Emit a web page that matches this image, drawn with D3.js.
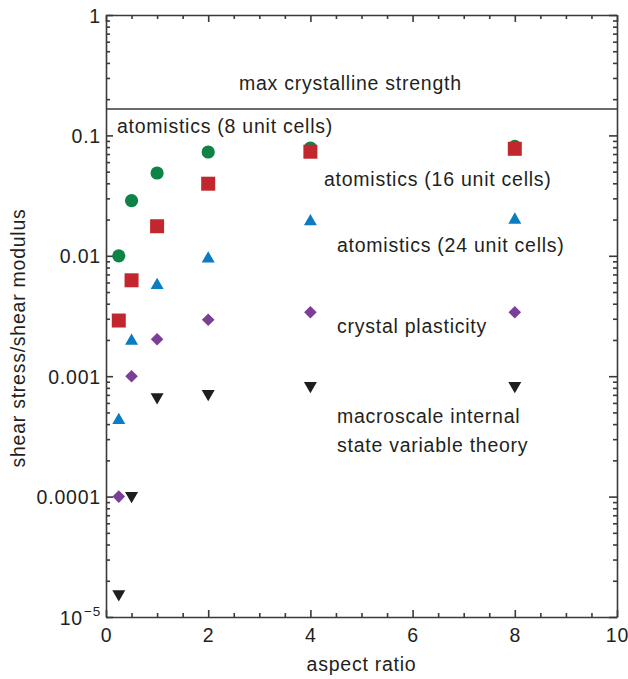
<!DOCTYPE html>
<html>
<head>
<meta charset="utf-8">
<script src="https://cdn.jsdelivr.net/npm/d3@7"></script>
<style>
  html, body { margin: 0; padding: 0; background: #fff; }
  svg { display: block; font-family: "Liberation Sans", Arial, Helvetica, sans-serif; }
  text { fill: #231f20; }
</style>
</head>
<body>
<svg id="chart" width="628" height="679"></svg>
<script>
// Aspect ratios of the simulated specimens
const aspectRatios = [0.25, 0.5, 1, 2, 4, 8];

// Normalised shear strength (shear stress / shear modulus) for each model
const atomistics8 = [0.0100, 0.0287, 0.0487, 0.0728, 0.0786, 0.0810];
const atomistics16 = [0.0029, 0.00626, 0.0176, 0.0397, 0.0732, 0.0774];
const atomistics24 = [0.000447, 0.00203, 0.0059, 0.0098, 0.0200, 0.0206];
const crystalPlasticity = [0.0001, 0.001, 0.00203, 0.00294, 0.0034, 0.0034];
const isvTheory = [0.0000150, 0.000098, 0.000647, 0.00069, 0.000805, 0.000805];

// Theoretical upper bound
const maxCrystallineStrength = 0.1656;

// Axis ticks
const xMajorTicks = [0, 2, 4, 6, 8, 10];
const xTickLabels = ["0", "2", "4", "6", "8", "10"];
const yMajorTicks = [1e-5, 1e-4, 1e-3, 1e-2, 0.1, 1];
const yTickLabels = ["10|−5", "0.0001", "0.001", "0.01", "0.1", "1"];

const svg = d3.select("#chart");
const plotLeft = 106, plotRight = 617, plotTop = 15, plotBottom = 617;

const x = d3.scaleLinear().domain([0, 10]).range([plotLeft, plotRight]);
const y = d3.scaleLog().domain([1e-5, 1]).range([plotBottom, plotTop]);

const axisColor = "#3a3a3a";
const axisWidth = 1.6;
const majorLen = 7, minorLen = 4;
const fontSize = 19.5;
const tracking = "0.75px";

// minor tick positions
const xMinor = d3.range(0, 10.001, 0.5).filter(v => !xMajorTicks.includes(v));
const yMinor = [];
for (let e = -5; e < 0; e++) for (let m = 2; m <= 9; m++) yMinor.push(m * Math.pow(10, e));

function styleAxis(g) {
  g.selectAll("path, line").attr("stroke", axisColor).attr("stroke-width", axisWidth);
  g.selectAll("text").attr("fill", "#231f20").style("letter-spacing", "0.8px")
    .attr("font-size", fontSize);
  g.attr("font-family", null);
}

// bottom axis (ticks pointing into the plot)
const gxb = svg.append("g").attr("transform", `translate(0,${plotBottom})`)
  .call(d3.axisBottom(x).tickValues(xMajorTicks).tickSizeInner(-majorLen).tickSizeOuter(0)
    .tickPadding(11).tickFormat((d, i) => xTickLabels[i]));
gxb.call(styleAxis);
gxb.selectAll("text").attr("dy", null).attr("y", 25);
svg.append("g").attr("transform", `translate(0,${plotBottom})`)
  .call(d3.axisBottom(x).tickValues(xMinor).tickSizeInner(-minorLen).tickSizeOuter(0).tickFormat(""))
  .call(g => g.select(".domain").remove()).call(styleAxis);

// top axis
svg.append("g").attr("transform", `translate(0,${plotTop})`)
  .call(d3.axisTop(x).tickValues(xMajorTicks).tickSizeInner(-majorLen).tickSizeOuter(0).tickFormat(""))
  .call(styleAxis);
svg.append("g").attr("transform", `translate(0,${plotTop})`)
  .call(d3.axisTop(x).tickValues(xMinor).tickSizeInner(-minorLen).tickSizeOuter(0).tickFormat(""))
  .call(g => g.select(".domain").remove()).call(styleAxis);

// left axis
const gyl = svg.append("g").attr("transform", `translate(${plotLeft},0)`)
  .call(d3.axisLeft(y).tickValues(yMajorTicks).tickSizeInner(-majorLen).tickSizeOuter(0)
    .tickPadding(5).tickFormat(() => ""));
gyl.call(styleAxis);
gyl.selectAll(".tick").each(function (d, i) {
  const parts = yTickLabels[i].split("|");
  const t = d3.select(this).select("text").attr("dy", "0.36em");
  t.text(null);
  t.append("tspan").text(parts[0]);
  if (parts[1]) {
    t.append("tspan").attr("font-size", 13.5).attr("dy", "-0.6em").attr("dx", "1").text(parts[1]);
  }
});
svg.append("g").attr("transform", `translate(${plotLeft},0)`)
  .call(d3.axisLeft(y).tickValues(yMinor).tickSizeInner(-minorLen).tickSizeOuter(0).tickFormat(""))
  .call(g => g.select(".domain").remove()).call(styleAxis);

// right axis
svg.append("g").attr("transform", `translate(${plotRight},0)`)
  .call(d3.axisRight(y).tickValues(yMajorTicks).tickSizeInner(-majorLen - 1).tickSizeOuter(0).tickFormat(""))
  .call(styleAxis);
svg.append("g").attr("transform", `translate(${plotRight},0)`)
  .call(d3.axisRight(y).tickValues(yMinor).tickSizeInner(-minorLen).tickSizeOuter(0).tickFormat(""))
  .call(g => g.select(".domain").remove()).call(styleAxis);

// upper bound line
svg.append("line")
  .attr("x1", x(0)).attr("x2", x(10))
  .attr("y1", y(maxCrystallineStrength)).attr("y2", y(maxCrystallineStrength))
  .attr("stroke", axisColor).attr("stroke-width", 1.5);

// marker shapes (triangles centred on their bounding box)
const triUp = {
  draw(ctx, size) {
    const w = Math.sqrt(size), h = w * 0.87;
    ctx.moveTo(0, -h / 2); ctx.lineTo(w / 2, h / 2); ctx.lineTo(-w / 2, h / 2); ctx.closePath();
  }
};
const triDown = {
  draw(ctx, size) {
    const w = Math.sqrt(size), h = w * 0.87;
    ctx.moveTo(0, h / 2); ctx.lineTo(w / 2, -h / 2); ctx.lineTo(-w / 2, -h / 2); ctx.closePath();
  }
};
const diamond = {
  draw(ctx, size) {
    const r = Math.sqrt(size) / 2;
    ctx.moveTo(0, -r); ctx.lineTo(r, 0); ctx.lineTo(0, r); ctx.lineTo(-r, 0); ctx.closePath();
  }
};

const series = [
  { values: crystalPlasticity, color: "#7b3f98", symbol: diamond, size: 12.6 * 12.6 },
  { values: isvTheory, color: "#1e1e1e", symbol: triDown, size: 13 * 13 },
  { values: atomistics24, color: "#0a7cc1", symbol: triUp, size: 13 * 13 },
  { values: atomistics8, color: "#0d8346", symbol: d3.symbolCircle, size: Math.PI * 6.6 * 6.6 },
  { values: atomistics16, color: "#c1272d", symbol: d3.symbolSquare, size: 14 * 14 }
];

series.forEach(s => {
  svg.append("g").selectAll("path")
    .data(aspectRatios.map((a, i) => [a, s.values[i]]))
    .join("path")
    .attr("transform", d => `translate(${x(d[0])},${y(d[1])})`)
    .attr("d", d3.symbol().type(s.symbol).size(s.size))
    .attr("fill", s.color);
});

// annotations
const notes = [
  { text: "max crystalline strength", x: 239, y: 90 },
  { text: "atomistics (8 unit cells)", x: 117, y: 133 },
  { text: "atomistics (16 unit cells)", x: 324, y: 186 },
  { text: "atomistics (24 unit cells)", x: 337, y: 252 },
  { text: "crystal plasticity", x: 337, y: 333 },
  { text: "macroscale internal", x: 337, y: 423 },
  { text: "state variable theory", x: 337, y: 452 }
];
svg.append("g").selectAll("text").data(notes).join("text")
  .attr("x", d => d.x).attr("y", d => d.y)
  .attr("font-size", fontSize).style("letter-spacing", tracking)
  .text(d => d.text);

// axis titles
svg.append("text")
  .attr("x", (plotLeft + plotRight) / 2).attr("y", 671)
  .attr("text-anchor", "middle").attr("font-size", fontSize).style("letter-spacing", tracking)
  .text("aspect ratio");
svg.append("text")
  .attr("transform", "translate(25,338) rotate(-90)")
  .attr("text-anchor", "middle").attr("font-size", fontSize).style("letter-spacing", tracking)
  .text("shear stress/shear modulus");
</script>
</body>
</html>
